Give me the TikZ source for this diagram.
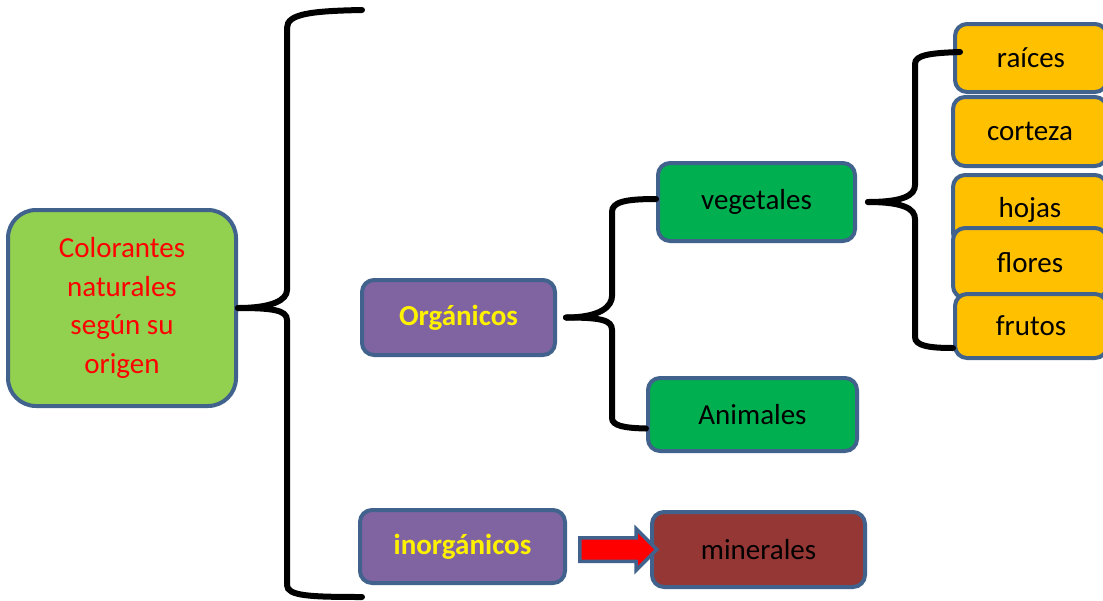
\documentclass[tikz,border=0pt]{standalone}
\usepackage{fontspec}
\setmainfont{Carlito}
\usetikzlibrary{shapes.arrows,calc}
\definecolor{edgeblue}{RGB}{65,98,140}
\definecolor{rootgreen}{RGB}{146,208,80}
\definecolor{orgpurple}{RGB}{128,100,162}
\definecolor{vegreen}{RGB}{0,176,80}
\definecolor{partyellow}{RGB}{255,192,0}
\definecolor{minbrown}{RGB}{149,55,53}
\begin{document}
\begin{tikzpicture}[x=1pt,y=-1pt,
		box/.style={rectangle, rounded corners=12pt, draw=edgeblue, line width=4pt, inner sep=0pt, font=\fontsize{29}{38.7}\selectfont},
		brace/.style={line width=6pt, line cap=round}]
		\useasboundingbox (0,0) rectangle (1103,600);
		% Root and first level
		\path (122,308) node[box, rounded corners=28pt, fill=rootgreen, text=red, minimum width=228pt, minimum height=196pt, align=center](root){Colorantes\\naturales\\según su\\origen}
		(458.5,317.5) node[box, fill=orgpurple, text=yellow, minimum width=193pt, minimum height=75pt](org){\textbf{Orgánicos}}
		(462.5,546.5) node[box, fill=orgpurple, text=yellow, minimum width=205pt, minimum height=73pt](inorg){\textbf{inorgánicos}};
		% Second level
		\path (756.5,202) node[box, fill=vegreen, minimum width=197pt, minimum height=78pt](veg){vegetales}
		(752.5,414.5) node[box, fill=vegreen, minimum width=209pt, minimum height=73pt](anim){Animales}
		(758.5,549.5) node[box, fill=minbrown, minimum width=213pt, minimum height=75pt](mineral){minerales};
		% Plant parts, drawn top to bottom so they overlap
		\path (1031,58) node[box, fill=partyellow, minimum width=152pt, minimum height=68pt](raices){raíces}
		(1030,131.5) node[box, fill=partyellow, minimum width=154pt, minimum height=69pt](corteza){corteza}
		(1030,210) node[box, fill=partyellow, minimum width=154pt, minimum height=70pt](hojas){hojas}
		(1030,263) node[box, fill=partyellow, minimum width=154pt, minimum height=70pt](flores){flores}
		(1031,326) node[box, fill=partyellow, minimum width=152pt, minimum height=64pt](frutos){frutos};
		% Big brace
		\coordinate (topend) at (362,10);
		\coordinate (botend) at (362,597);
		\draw[brace] (root.east) .. controls +(34,0) and (287,300) .. (287,290) -- (287,28) .. controls (287,14) and (310,11) .. (topend);
		\draw[brace] (root.east) .. controls +(34,0) and (287,310) .. (287,320) -- (287,585) .. controls (287,596) and (310,597) .. (botend);
		% Brace of Orgánicos
		\draw[brace] ([xshift=9pt]org.east) .. controls +(35,0) and (612,306) .. (612,296) -- (612,212) .. controls (612,202) and (625,199) .. ([yshift=3pt]veg.west);
		\draw[brace] ([xshift=9pt]org.east) .. controls +(35,0) and (612,320) .. (612,330) -- (612,418) .. controls (612,426) and (625,428) .. ([yshift=-14pt]anim.west);
		% Brace of vegetales
		\draw[brace] ([xshift=11pt]veg.east) .. controls +(36,0) and (915,195) .. (915,185) -- (915,64) .. controls (915,55) and (930,53) .. ([xshift=7pt,yshift=6pt]raices.west);
		\draw[brace] ([xshift=11pt]veg.east) .. controls +(36,0) and (915,209) .. (915,219) -- (915,337) .. controls (915,346) and (930,348) .. ([yshift=-22pt]frutos.west);
		% Block arrow
		\node[single arrow, draw=edgeblue, fill=red, line width=3.5pt, inner xsep=0pt, inner ysep=10pt, single arrow head extend=9pt, minimum height=77pt] (arr) at ($(inorg.east)!0.5!(mineral.west)+(4,1.5)$) {};
	\end{tikzpicture}
\end{document}
